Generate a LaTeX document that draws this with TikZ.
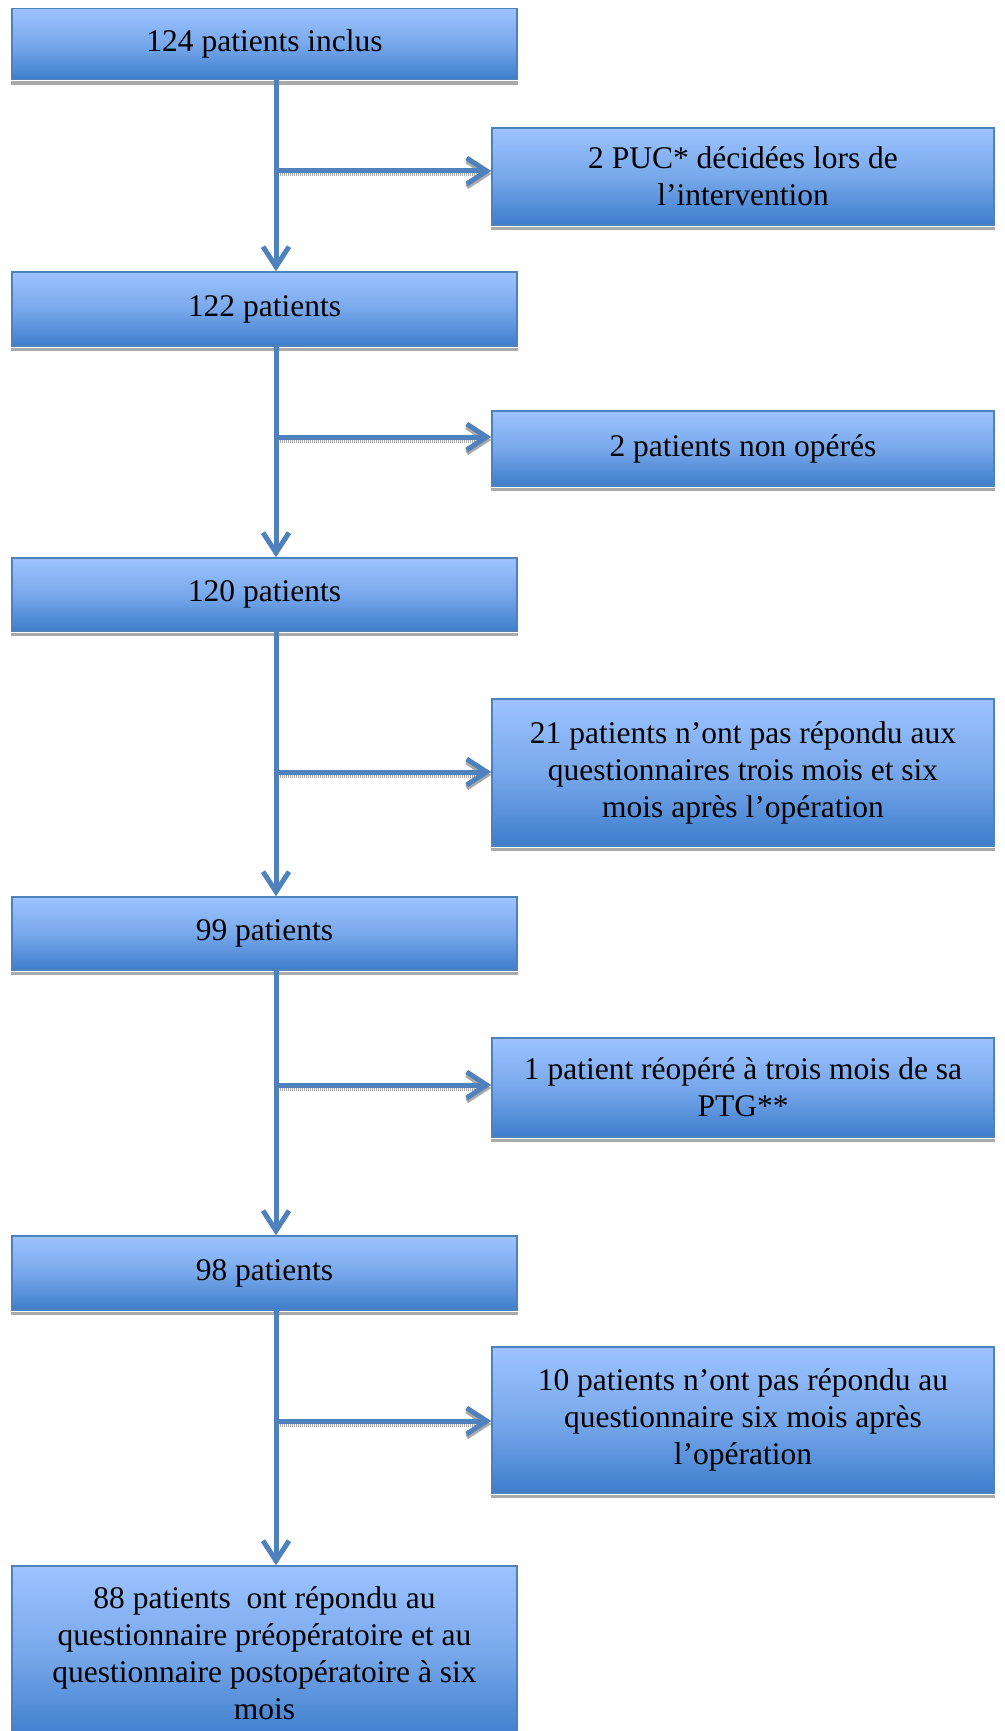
\documentclass[tikz,border=0pt]{standalone}
\usepackage{fontspec}
\setmainfont{Liberation Serif}
\usetikzlibrary{arrows.meta}
\definecolor{bord}{RGB}{79,129,189}
\definecolor{topc}{RGB}{157,195,255}
\definecolor{midc}{RGB}{120,168,235}
\definecolor{botc}{RGB}{62,125,204}
\definecolor{arrc}{RGB}{79,129,189}
\definecolor{shadc}{RGB}{170,170,170}
\begin{document}
\begin{tikzpicture}[x=1pt,y=-1pt,
  box/.style={draw=bord, line width=1.5pt, top color=topc, bottom color=botc, middle color=midc,
    align=center, font=\fontsize{31.5}{37}\selectfont, inner sep=0pt},
  lbox/.style={box, minimum width=505pt},
  rbox/.style={box, minimum width=502pt},
  arr/.style={draw=arrc, line width=5pt, -{Straight Barb[length=20pt,width=26pt]}},
  arrshadow/.style={draw=shadc, line width=5pt, dash pattern=on 1pt off 1pt, -{Straight Barb[length=20pt,width=26pt]}},
  boxshadow/.style={fill=shadc}
]
\useasboundingbox (0,0) rectangle (1004,1731);
\coordinate (vx) at (276,0);
% boxes
\node[lbox, minimum height=71pt] (b1) at (264.5,44) {124 patients inclus};
\node[rbox, minimum height=97pt] (r1) at (743,176.5) {2 PUC* décidées lors de\\l’intervention};
\node[lbox, minimum height=74pt] (b2) at (264.5,309) {122 patients};
\node[rbox, minimum height=75pt] (r2) at (743,448.5) {2 patients non opérés};
\node[lbox, minimum height=73pt] (b3) at (264.5,594.5) {120 patients};
\node[rbox, minimum height=147pt] (r3) at (743,772.5) {21 patients n’ont pas répondu aux\\questionnaires trois mois et six\\mois après l’opération};
\node[lbox, minimum height=73pt] (b4) at (264.5,933.5) {99 patients};
\node[rbox, minimum height=99pt] (r4) at (743,1087.5) {1 patient réopéré à trois mois de sa\\PTG**};
\node[lbox, minimum height=74pt] (b5) at (264.5,1273) {98 patients};
\node[rbox, minimum height=146pt] (r5) at (743,1420) {10 patients n’ont pas répondu au\\questionnaire six mois après\\l’opération};
\node[lbox, minimum height=174pt, text depth=0pt] (b6) at (264.5,1653) {88 patients\ \ ont répondu au\\questionnaire préopératoire et au\\questionnaire postopératoire à six\\mois};
% box shadows
\foreach \n in {b1,r1,b2,r2,b3,r3,b4,r4,b5,r5}
  \fill[boxshadow] ([yshift=-0.75pt]\n.south west) rectangle ([yshift=-4.5pt]\n.south east);
% branch points
\coordinate (k1) at (276,171);
\coordinate (k2) at (276,437);
\coordinate (k3) at (276,772);
\coordinate (k4) at (276,1085);
\coordinate (k5) at (276,1421);
% horizontal arrow shadows
\foreach \k/\r in {k1/r1,k2/r2,k3/r3,k4/r4,k5/r5}
  \draw[arrshadow] ([shift={(2pt,-3pt)}]\k) -- ([shift={(0pt,-3pt)}]\r.west |- \k);
% vertical arrows
\draw[arr] (b1.south -| vx) -- (b2.north -| vx);
\draw[arr] (b2.south -| vx) -- (b3.north -| vx);
\draw[arr] (b3.south -| vx) -- (b4.north -| vx);
\draw[arr] (b4.south -| vx) -- (b5.north -| vx);
\draw[arr] (b5.south -| vx) -- (b6.north -| vx);
% horizontal arrows
\foreach \k/\r in {k1/r1,k2/r2,k3/r3,k4/r4,k5/r5}
  \draw[arr] (\k) -- (\r.west |- \k);
\end{tikzpicture}
\end{document}
